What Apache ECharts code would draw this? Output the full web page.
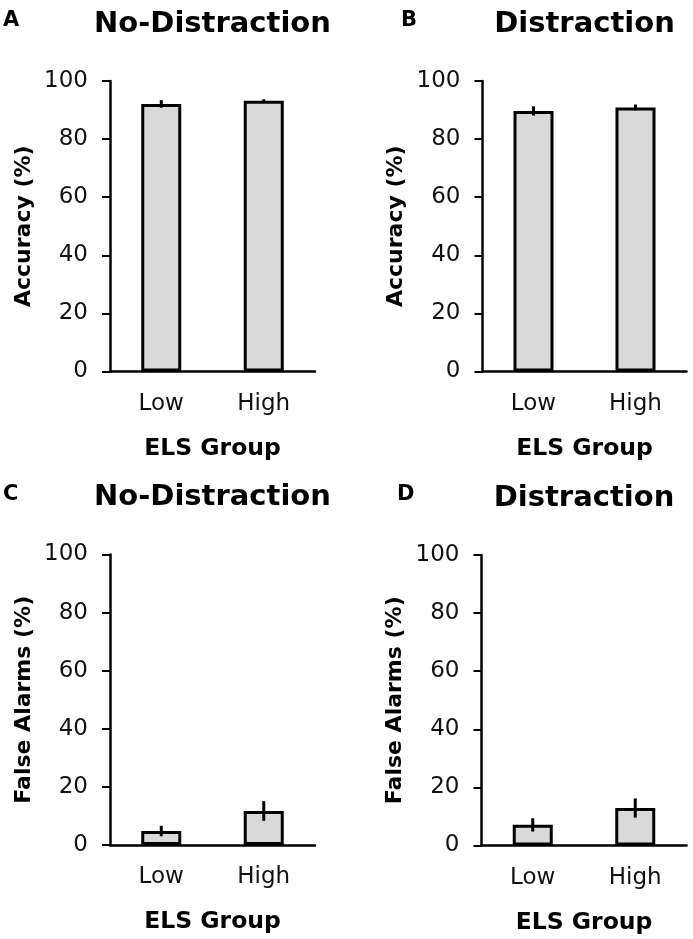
<!DOCTYPE html>
<html>
<head>
<meta charset="utf-8">
<title>ELS Group accuracy and false alarms</title>
<script src="https://cdn.jsdelivr.net/npm/echarts@6/dist/echarts.min.js"></script>
<style>
    html, body { margin: 0; padding: 0; background: #fff; }
    #app { width: 693px; height: 939px; }
</style>
</head>
<body>
<div id="app"></div>
<script>
'use strict';

// 数据
var groups = ['Low', 'High'];
var accNoDist = [92.1, 93.2];
var accNoDistErr = [1.3, 0.5];
var accDist = [89.7, 90.9];
var accDistErr = [1.6, 1.0];
var faNoDist = [4.8, 11.7];
var faNoDistErr = [1.8, 3.4];
var faDist = [7.1, 12.9];
var faDistErr = [2.3, 3.3];

var FONT = 'DejaVu Sans';

// 四个面板的位置
var panels = [
    { letter: 'A', letterX: 3, title: 'No-Distraction', yName: 'Accuracy (%)', mean: accNoDist, err: accNoDistErr,
      grid: { left: 110, top: 81, width: 205, height: 290.5 } },
    { letter: 'B', letterX: 401, title: 'Distraction', yName: 'Accuracy (%)', mean: accDist, err: accDistErr,
      grid: { left: 482.5, top: 81, width: 204, height: 290.5 } },
    { letter: 'C', letterX: 3, title: 'No-Distraction', yName: 'False Alarms (%)', mean: faNoDist, err: faNoDistErr,
      grid: { left: 110, top: 554.5, width: 205, height: 290.5 } },
    { letter: 'D', letterX: 397, title: 'Distraction', yName: 'False Alarms (%)', mean: faDist, err: faDistErr,
      grid: { left: 481.5, top: 555, width: 205, height: 290.5 } }
];

function errorItem(params, api) {
    var x = api.value(0);
    var lo = api.coord([x, api.value(1)]);
    var hi = api.coord([x, api.value(2)]);
    return {
        type: 'line',
        shape: { x1: lo[0], y1: lo[1], x2: hi[0], y2: hi[1] },
        style: { stroke: '#000', lineWidth: 3 }
    };
}

var grids = [], xAxes = [], yAxes = [], series = [], texts = [];

panels.forEach(function (p, i) {
    var g = p.grid;
    grids.push({ left: g.left, top: g.top, width: g.width, height: g.height, containLabel: false });

    xAxes.push({
        type: 'category',
        gridIndex: i,
        data: groups,
        name: 'ELS Group',
        nameLocation: 'middle',
        nameGap: 65,
        nameTextStyle: { fontFamily: FONT, fontSize: 23.5, fontWeight: 'bold', color: '#000' },
        axisLine: { lineStyle: { color: '#000', width: 2.5 } },
        axisTick: { show: false },
        axisLabel: { fontFamily: FONT, fontSize: 23, color: '#111', margin: 21 }
    });

    yAxes.push({
        type: 'value',
        gridIndex: i,
        min: 0,
        max: 100,
        interval: 20,
        name: p.yName,
        nameLocation: 'middle',
        nameGap: 75,
        nameTextStyle: { fontFamily: FONT, fontSize: 22, fontWeight: 'bold', color: '#000' },
        axisLine: { show: true, lineStyle: { color: '#000', width: 2.5 } },
        axisTick: { show: true, length: 8, lineStyle: { color: '#000', width: 2 } },
        axisLabel: { fontFamily: FONT, fontSize: 23, color: '#111', margin: 22 },
        splitLine: { show: false }
    });

    series.push({
        type: 'bar',
        xAxisIndex: i,
        yAxisIndex: i,
        barWidth: 40,
        data: p.mean,
        itemStyle: { color: '#d9d9d9', borderColor: '#000', borderWidth: 3 },
        silent: true,
        z: 2
    });

    series.push({
        type: 'custom',
        xAxisIndex: i,
        yAxisIndex: i,
        renderItem: errorItem,
        data: p.mean.map(function (m, j) { return [j, m - p.err[j], m + p.err[j]]; }),
        silent: true,
        z: 5
    });

    // 标题与面板字母
    texts.push({
        type: 'text',
        x: g.left + g.width / 2,
        y: g.top - 57,
        style: { text: p.title, font: 'bold 29px "' + FONT + '"', fill: '#000', align: 'center', verticalAlign: 'middle' }
    });
    texts.push({
        type: 'text',
        x: p.letterX,
        y: g.top - 60,
        style: { text: p.letter, font: 'bold 21px "' + FONT + '"', fill: '#000', align: 'left', verticalAlign: 'middle' }
    });
});

var chart = echarts.init(document.getElementById('app'));
chart.setOption({
    animation: false,
    backgroundColor: '#fff',
    grid: grids,
    xAxis: xAxes,
    yAxis: yAxes,
    series: series,
    graphic: texts
});
</script>
</body>
</html>
